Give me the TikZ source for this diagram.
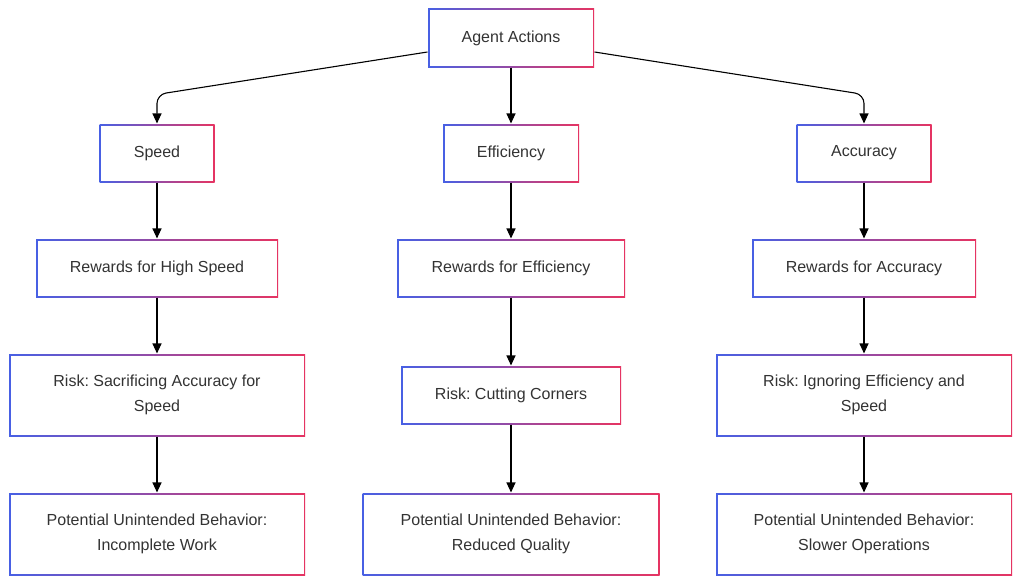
\documentclass[tikz,border=0pt]{standalone}
\usepackage{fontspec}
\setmainfont{Liberation Sans}
\usetikzlibrary{positioning,arrows.meta}
\definecolor{edgeblue}{RGB}{72,96,228}
\definecolor{edgered}{RGB}{230,52,98}
\definecolor{textgray}{RGB}{51,51,51}
\frenchspacing
\begin{document}
\begin{tikzpicture}[x=1pt,y=-1pt,->,>={Triangle[length=10pt,width=9pt]},line width=1.1pt,
                    on grid,
  box/.style={left color=edgeblue,right color=edgered,text=textgray,align=center,
              minimum height=58pt,font=\fontsize{16}{24.5}\selectfont,
              path picture={\fill[white] ([shift={(1.5pt,1.5pt)}]path picture bounding box.south west)
                rectangle ([shift={(-1.5pt,-1.5pt)}]path picture bounding box.north east);}},
  tall/.style={box,minimum width=296pt,minimum height=82pt}]
  \useasboundingbox[fill=white] (0,0) rectangle (1024,586);

  \node[box,minimum width=166pt] (agent) at (511,38) {Agent Actions};
  \node[box,minimum width=136pt] (eff) [below=115pt of agent] {Efficiency};
  \node[box,minimum width=115pt] (speed) [left=354pt of eff] {Speed};
  \node[box,minimum width=135pt] (acc) [right=353pt of eff] {Accuracy};

  \node[box,minimum width=242pt] (rspeed) [below=115pt of speed] {Rewards for High Speed};
  \node[box,minimum width=228pt] (reff) [below=115pt of eff] {Rewards for Efficiency};
  \node[box,minimum width=224pt] (racc) [below=115pt of acc] {Rewards for Accuracy};

  \node[tall] (kspeed) [below=127pt of rspeed] {Risk: Sacrificing Accuracy for\\Speed};
  \node[box,minimum width=220pt] (keff) [below=127pt of reff] {Risk: Cutting Corners};
  \node[tall] (kacc) [below=127pt of racc] {Risk: Ignoring Efficiency and\\Speed};

  \node[tall] (pspeed) [below=139pt of kspeed] {Potential Unintended Behavior:\\Incomplete Work};
  \node[tall,minimum width=297pt] (peff) [below=139pt of keff] {Potential Unintended Behavior:\\Reduced Quality};
  \node[tall] (pacc) [below=139pt of kacc] {Potential Unintended Behavior:\\Slower Operations};

  \draw[rounded corners=9pt] ([yshift=-14pt]agent.west) -- ([yshift=29pt]speed.north) -- (speed.north);
  \draw (agent) -- (eff);
  \draw[rounded corners=9pt] ([yshift=-14pt]agent.east) -- ([yshift=29pt]acc.north) -- (acc.north);

  \path (speed) edge (rspeed)
        (rspeed) edge (kspeed)
        (kspeed) edge (pspeed)
        (eff) edge (reff)
        (reff) edge (keff)
        (keff) edge (peff)
        (acc) edge (racc)
        (racc) edge (kacc)
        (kacc) edge (pacc);
\end{tikzpicture}
\end{document}
